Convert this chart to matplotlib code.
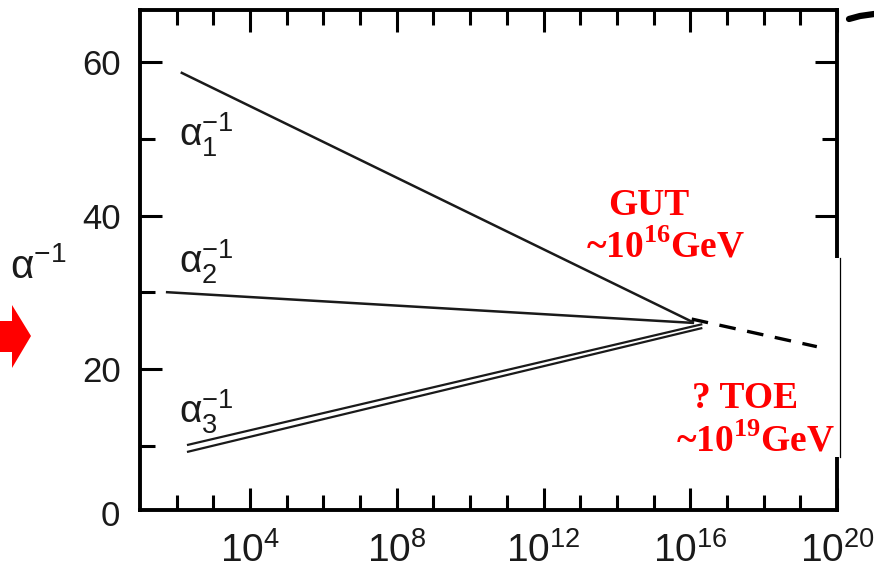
import numpy as np
import matplotlib.pyplot as plt
from matplotlib.ticker import FixedLocator, FixedFormatter, NullFormatter
from matplotlib.patches import Polygon, Rectangle
from matplotlib.lines import Line2D

plt.rcParams['font.family'] = ['Liberation Sans', 'DejaVu Sans']
plt.rcParams['mathtext.fontset'] = 'custom'
plt.rcParams['mathtext.rm'] = 'Liberation Sans'
plt.rcParams['mathtext.it'] = 'Liberation Sans:italic'
plt.rcParams['mathtext.bf'] = 'Liberation Serif:bold'

# running inverse couplings, energy given as log10(E / GeV)
a1_logE = [2.14, 16.07]
a1_inv = [58.6, 26.1]
a2_logE = [1.74, 16.07]
a2_inv = [30.0, 26.0]
a3_logE = [2.31, 16.3]
a3_upper = [10.1, 25.8]
a3_lower = [9.2, 25.3]
toe_logE = [16.04, 19.45]
toe_inv = [26.5, 22.9]

major_exp = [4, 8, 12, 16, 20]
minor_exp = list(range(2, 20))
ymajor = [20, 40, 60]
yminor = [10, 30, 50]

W, H = 874, 571
def fx(px):
    return px / W
def fy(py):
    return 1 - py / H

fig = plt.figure(figsize=(W / 100, H / 100), dpi=100)
ax = fig.add_axes([fx(140), fy(510), 697 / W, 500 / H])

ink = '#1a1a1a'
ax.plot(10 ** np.array(a1_logE), a1_inv, color=ink, lw=1.8)
ax.plot(10 ** np.array(a2_logE), a2_inv, color=ink, lw=1.8)
ax.plot(10 ** np.array(a3_logE), a3_upper, color=ink, lw=1.6)
ax.plot(10 ** np.array(a3_logE), a3_lower, color=ink, lw=1.6)
ax.plot(10 ** np.array(toe_logE), toe_inv, color='black', lw=2.4,
        dashes=(5, 3.5), zorder=3, clip_on=False)

ax.set_xscale('log')
ax.set_xlim(1e1, 1e20)
ax.set_ylim(1.6, 66.8)
ax.xaxis.set_major_locator(FixedLocator([10.0 ** e for e in major_exp]))
ax.xaxis.set_major_formatter(FixedFormatter(
    [r'$\mathregular{10^{%d}}$' % e for e in major_exp]))
ax.xaxis.set_minor_locator(FixedLocator([10.0 ** e for e in minor_exp]))
ax.xaxis.set_minor_formatter(NullFormatter())
ax.set_yticks(ymajor)
ax.set_yticks(yminor, minor=True)

for s in ax.spines.values():
    s.set_linewidth(2.8)
ax.tick_params(which='both', direction='in', top=True, right=True,
               width=2.2, labelcolor=ink)
ax.tick_params(which='major', length=16)
ax.tick_params(which='minor', length=11)
ax.tick_params(axis='y', pad=14, labelsize=25)
ax.tick_params(axis='x', pad=16, labelsize=28)
ax.text(-0.029, 0.7, '0', transform=ax.get_yaxis_transform(),
        ha='right', va='center', fontsize=25, color=ink)

# coupling labels
lab_kw = dict(fontsize=28, color=ink, ha='left', va='center')
ax.text(10 ** 2.07, 50.5, r'$\mathrm{\alpha}_1^{-1}$', **lab_kw)
ax.text(10 ** 2.07, 33.9, r'$\mathrm{\alpha}_2^{-1}$', **lab_kw)
ax.text(10 ** 2.07, 14.4, r'$\mathrm{\alpha}_3^{-1}$', **lab_kw)
fig.text(fx(10), fy(278), r'$\mathrm{\alpha}^{-1}$', fontsize=29,
         color=ink, ha='left', va='baseline')

# white patch hiding part of right spine
ax.add_patch(Rectangle((fx(800), fy(457)), fx(840) - fx(800),
                       fy(258) - fy(457), transform=fig.transFigure,
                       facecolor='white', edgecolor='none', zorder=2.6,
                       clip_on=False))
ax.add_line(Line2D([fx(840), fx(840)], [fy(258), fy(457)], lw=0.9,
                   color='black', transform=fig.transFigure, zorder=2.7,
                   clip_on=False))

red_kw = dict(color='red', family='Liberation Serif', weight='bold',
              fontsize=27, ha='center', va='baseline', zorder=5)
fig.text(fx(649), fy(215), 'GUT', **red_kw)
fig.text(fx(666), fy(258), r'~10$^{\mathbf{16}}$GeV', **red_kw)
fig.text(fx(745), fy(408), '? TOE', **red_kw)
fig.text(fx(756), fy(452), r'~10$^{\mathbf{19}}$GeV', **red_kw)

# red arrow at left edge and arc at top right
arrow_px = [(0, 321), (12, 321), (12, 305), (31, 336), (12, 368), (12, 352), (0, 352)]
fig.patches.append(Polygon([(fx(x), fy(y)) for x, y in arrow_px], closed=True,
                           transform=fig.transFigure, facecolor='red',
                           edgecolor='none'))
fig.lines.append(Line2D([fx(849), fx(860), fx(874)], [fy(19), fy(16), fy(14)],
                        lw=4.5, color='black', solid_capstyle='round',
                        transform=fig.transFigure))

fig.savefig('out.png', dpi=100)
